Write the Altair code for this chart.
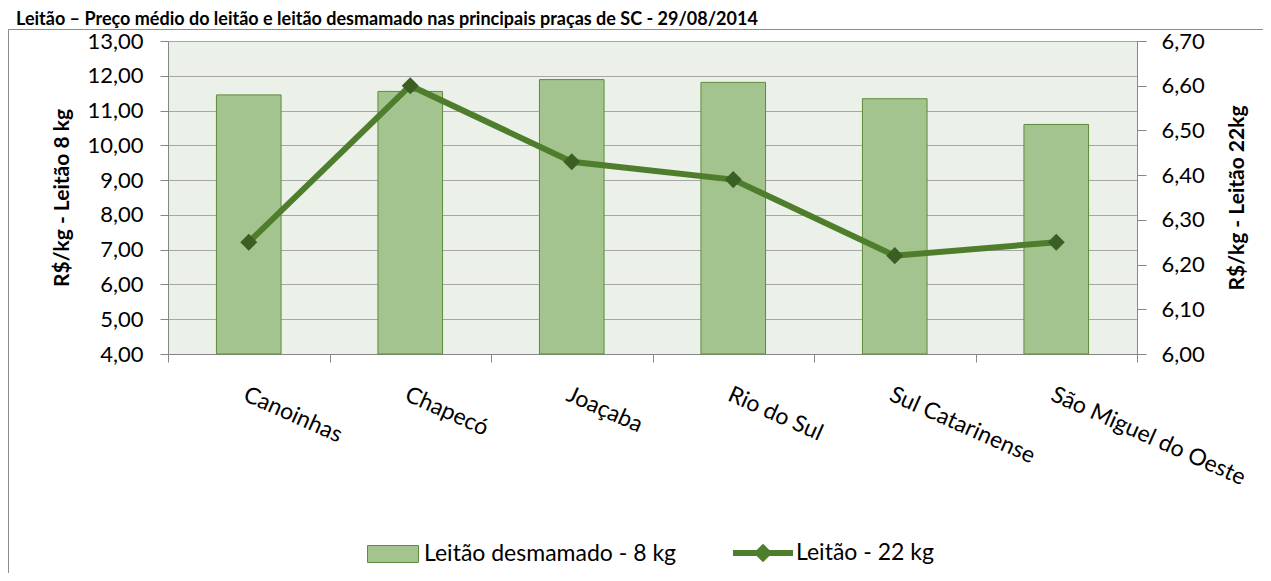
import altair as alt
import pandas as pd

# ---- data ----
pracas = ["Canoinhas", "Chapecó", "Joaçaba", "Rio do Sul", "Sul Catarinense", "São Miguel do Oeste"]
desmamado_8kg = [11.45, 11.55, 11.89, 11.81, 11.34, 10.60]
leitao_22kg = [6.25, 6.60, 6.43, 6.39, 6.22, 6.25]
ticks_esq = [4, 5, 6, 7, 8, 9, 10, 11, 12, 13]
ticks_dir = [6.0, 6.1, 6.2, 6.3, 6.4, 6.5, 6.6, 6.7]
serie_barra = "Leitão desmamado - 8 kg"
serie_linha = "Leitão - 22 kg"
titulo = "Leitão – Preço médio do leitão e leitão desmamado nas principais praças de SC - 29/08/2014"
titulo_esq = "R$/kg - Leitão 8 kg"
titulo_dir = "R$/kg - Leitão 22kg"

df = pd.DataFrame({
    "praca": pracas,
    "desmamado": desmamado_8kg,
    "leitao": leitao_22kg,
    "sb": [serie_barra] * len(pracas),
    "sl": [serie_linha] * len(pracas),
})

W, H = 969, 313
FONT = "Lato"
AXC = "#868686"
BAR_FILL = "#a3c48f"
BAR_STROKE = "#5e8c3c"
LINE_C = "#4e7e2c"
MARK_C = "#3b5e22"
label_expr = "replace(format(datum.value, '.2f'), '.', ',')"

x_enc = alt.X(
    "praca:N", sort=pracas, title=None,
    scale=alt.Scale(paddingInner=0, paddingOuter=0),
    axis=alt.Axis(labelAngle=24, labelAlign="left", labelBaseline="top",
                  labelPadding=21, tickSize=8, tickBand="extent",
                  labelFontSize=23, labelFont=FONT, labelColor="#000000",
                  domainColor=AXC, tickColor=AXC, grid=False, labelOverlap=False,
                  labelLimit=400),
)

frame = alt.Chart(pd.DataFrame({"a": [0]})).mark_rect(
    fillOpacity=0, stroke="#8c8c8c", strokeWidth=1
).encode(
    x=alt.value(-159.5), x2=alt.value(2000), y=alt.value(-11.5), y2=alt.value(2000)
)

bars = alt.Chart(df).mark_bar(
    width=alt.RelativeBandSize(0.4), stroke=BAR_STROKE, strokeWidth=1
).encode(
    x=x_enc,
    y=alt.Y("desmamado:Q",
            scale=alt.Scale(domain=[4, 13], nice=False, zero=False),
            axis=alt.Axis(values=ticks_esq, labelExpr=label_expr, orient="left",
                          title=titulo_esq, titleFont=FONT, titleFontSize=21,
                          titleFontWeight="bold", titleColor="#000000",
                          titleAngle=270, titleBaseline="bottom", titleAlign="center",
                          titleX=-96, titleY=H / 2,
                          labelFont=FONT, labelFontSize=22, labelColor="#000000",
                          labelPadding=17, tickSize=8, domainColor=AXC, tickColor=AXC,
                          grid=True, gridColor="#a6a6a6", gridWidth=1)),
    y2=alt.datum(4),
    fill=alt.Fill("sb:N", scale=alt.Scale(domain=[serie_barra], range=[BAR_FILL]),
                  legend=alt.Legend(orient="none", legendX=199, legendY=487, title=None,
                                    symbolType="M-1,-0.333H1V0.333H-1Z", symbolSize=2601,
                                    symbolStrokeColor=BAR_STROKE, symbolStrokeWidth=1,
                                    symbolFillColor=BAR_FILL, labelLimit=500,
                                    labelFont=FONT, labelFontSize=23, labelColor="#000000",
                                    labelOffset=5, padding=0)),
)

line = alt.Chart(df).mark_line(strokeWidth=6).encode(
    x=x_enc,
    y=alt.Y("leitao:Q",
            scale=alt.Scale(domain=[6.0, 6.7], nice=False, zero=False),
            axis=alt.Axis(values=ticks_dir, labelExpr=label_expr, orient="right",
                          title=titulo_dir, titleFont=FONT, titleFontSize=21,
                          titleFontWeight="bold", titleColor="#000000",
                          titleAngle=270, titleBaseline="bottom", titleAlign="center",
                          titleX=110, titleY=H / 2,
                          labelFont=FONT, labelFontSize=22, labelColor="#000000",
                          labelPadding=15, tickSize=9, domainColor=AXC, tickColor=AXC,
                          grid=False)),
    stroke=alt.Stroke("sl:N", scale=alt.Scale(domain=[serie_linha], range=[LINE_C]),
                      legend=alt.Legend(orient="none", legendX=562, legendY=479, title=None,
                                        symbolType="M-1,0H1M0,-0.17L0.17,0L0,0.17L-0.17,0Z",
                                        symbolSize=3600, symbolStrokeColor=LINE_C,
                                        symbolStrokeWidth=6, symbolFillColor=MARK_C,
                                        labelLimit=500,
                                        labelFont=FONT, labelFontSize=23, labelColor="#000000",
                                        labelOffset=0, padding=0)),
)

points = alt.Chart(df).mark_point(shape="diamond", filled=True, size=290, opacity=1,
                                  color=MARK_C).encode(
    x=x_enc,
    y=alt.Y("leitao:Q", scale=alt.Scale(domain=[6.0, 6.7], nice=False, zero=False)),
)

right_layer = alt.layer(line, points)

chart = alt.layer(frame, bars, right_layer).resolve_scale(
    y="independent", fill="independent", stroke="independent"
).properties(
    width=W, height=H,
    title=alt.Title(titulo, anchor="start", frame="group", dx=-152, offset=0,
                    font=FONT, fontSize=18, fontWeight="bold", color="#000000"),
    autosize=alt.AutoSizeParams(type="none"),
    padding={"left": 160, "top": 33, "right": 126, "bottom": 219},
).configure_view(fill="#ebf0e8", stroke=None)

chart.save("out.html", embed_options={"renderer": "svg", "actions": False})
